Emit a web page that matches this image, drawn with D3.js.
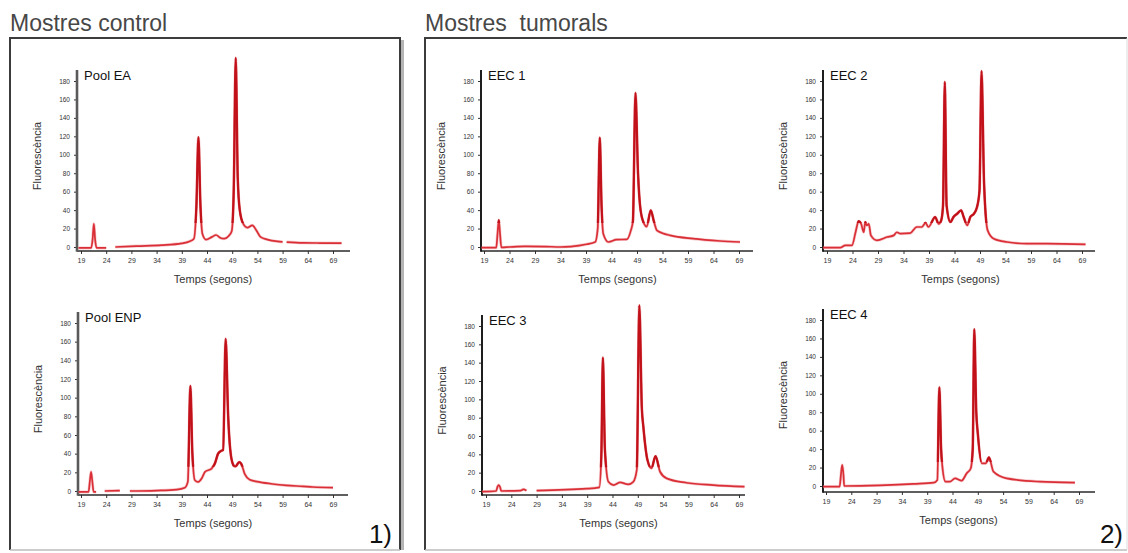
<!DOCTYPE html>
<html>
<head>
<meta charset="utf-8">
<script src="https://cdn.jsdelivr.net/npm/d3@7/dist/d3.min.js"></script>
<style>
  html, body { margin: 0; padding: 0; background: #fff; }
  svg { display: block; font-family: "Liberation Sans", Arial, sans-serif; }
</style>
</head>
<body>
<svg id="chart" width="1128" height="553"></svg>
<script>
// Axis ticks shared by all electropherograms
const ticksX = [19, 24, 29, 34, 39, 44, 49, 54, 59, 64, 69];
const ticksY = [0, 20, 40, 60, 80, 100, 120, 140, 160, 180];

const groupTitles = ["Mostres control", "Mostres  tumorals"];
const groupMarks = ["1)", "2)"];
const sampleNames = ["Pool EA", "Pool ENP", "EEC 1", "EEC 2", "EEC 3", "EEC 4"];
const xLabel = "Temps (segons)";
const yLabel = "Fluorescència";

// Traces: time (s) and fluorescence; null marks a break in the trace
const poolEA_t = [18.5, 21.0, 21.3, 21.55, 21.8, 22.1, 24.0, 24.8, 25.8, 30, 35, 39, 40.5, 41.4, 41.9, 42.3, 42.7, 43.1, 43.8, 45.0, 45.8, 46.6, 47.4, 48.3, 48.9, 49.3, 49.7, 50.1, 50.5, 51.2, 52.0, 53.0, 53.8, 54.6, 56.0, 58.0, 59.0, 59.4, 59.8, 63, 66.5, 70.7];
const poolEA_f = [-1, -1, 8, 25, 8, -1, -1, null, 0, 1, 2, 4, 6, 9, 45, 119, 45, 14, 8, 11, 13, 10, 9, 12, 17, 60, 205, 75, 40, 25, 21, 23.5, 18, 11, 8, 6, 5.5, null, 5.3, 4.5, 4.3, 4.2];

const poolENP_t = [18.5, 20.5, 20.75, 21.0, 21.25, 21.5, 22.0, 22.8, 23.7, 26.7, 27.7, 28.7, 34, 38, 39.6, 40.2, 40.7, 41.1, 41.6, 42.2, 43.0, 43.6, 44.9, 45.6, 46.2, 46.8, 47.2, 47.7, 48.2, 48.6, 49.2, 49.6, 50.4, 50.8, 51.5, 52.5, 54.5, 57, 59.8, 63, 65, 69];
const poolENP_f = [-1, -1, 10, 20.5, 10, -1, -1, null, 0, 0.5, null, 0, 0.5, 1.5, 3.5, 10, 112.5, 40, 11.5, 9.7, 14, 20.4, 24, 30, 40, 43, 44, 163, 80, 45, 28, 26, 31, 29, 18, 12, 9.5, 7.5, 6, 5, 4.3, 3.6];

const eec1_t = [18.5, 21.4, 21.65, 21.9, 22.15, 22.4, 24, 27, 31, 34, 36, 39.1, 40.8, 41.3, 41.7, 42.05, 42.4, 43.4, 45, 47, 47.8, 48.2, 48.7, 49.2, 49.7, 50.4, 50.9, 51.7, 52.3, 52.9, 54, 55.5, 60, 65.3, 69.2];
const eec1_f = [-0.7, -0.7, 14, 29, 14, -0.5, 0, 0.7, 0.5, 0, 0.5, 3, 5.4, 20, 118.5, 45, 14, 5.4, 8, 8.3, 18, 28, 167, 80, 40, 25, 22, 39.8, 28, 18, 15, 12.6, 9, 6.5, 5.4];

const eec2_t = [18.2, 21.6, 22.6, 23.9, 24.6, 25.2, 25.7, 26.2, 26.5, 26.8, 27.2, 27.6, 28.8, 30.8, 32.1, 32.7, 33.4, 35.3, 36.6, 37.6, 38.3, 38.9, 40.2, 40.9, 41.4, 41.75, 42.1, 42.45, 43.2, 43.8, 44.5, 45.3, 45.8, 46.5, 47.1, 47.8, 48.4, 48.9, 49.3, 49.8, 50.5, 51.7, 54.3, 58.2, 62.1, 69.7];
const eec2_f = [-0.7, -0.7, 1.8, 1.8, 16, 28, 25, 16, 27, 23.5, 25, 12.6, 7.2, 10.8, 12.6, 16, 14.5, 15, 21.7, 21.7, 26, 21.7, 32.5, 25, 29, 45, 179, 45, 27, 32.5, 36, 39.8, 32.5, 23.5, 32.5, 36, 43, 61, 190.8, 68.7, 18, 9, 5.4, 3.6, 3.6, 2.9];

const eec3_t = [18.2, 21.0, 21.3, 21.5, 21.8, 22.0, 25.8, 26.4, 27.0, 28.0, 29.0, 38.9, 41.4, 41.8, 42.1, 42.5, 43.2, 44.2, 45.5, 47.1, 48.1, 48.8, 49.3, 49.8, 50.1, 50.9, 51.7, 52.5, 53.4, 54.7, 58.6, 63.9, 70.1];
const eec3_f = [-0.7, 0, 5, 6.5, 4, 0, 0.4, 1.8, 0.4, null, 0.5, 2.5, 4, 40, 145.5, 45, 10, 6.5, 9.4, 7.3, 10, 23, 202.5, 90, 70, 34, 24.7, 38, 21, 13.8, 9, 6.5, 4.7];

const eec4_t = [18.4, 21.7, 21.95, 22.2, 22.45, 22.6, 29.7, 36.3, 40.3, 41.0, 41.4, 41.75, 42.0, 42.6, 43.5, 44.5, 45.8, 46.8, 47.6, 48.0, 48.3, 48.7, 49.0, 49.8, 50.6, 51.2, 52.1, 54.7, 61.3, 68.2];
const eec4_f = [-0.7, -0.7, 12, 22.8, 12, 0, 0.7, 2.2, 3.6, 6.5, 107, 40, 21, 4.7, 4.7, 8.3, 5.8, 13.7, 19, 40, 170, 80, 57, 24.6, 24.6, 31, 15.5, 8.3, 4.7, 3.6];

const traces = [
  [poolEA_t, poolEA_f], [poolENP_t, poolENP_f],
  [eec1_t, eec1_f], [eec2_t, eec2_f],
  [eec3_t, eec3_f], [eec4_t, eec4_f]
];

// Plot placement for each panel (pixels)
const layout = [
  { ax: 77,  x0: 81,  x1: 333,  y0: 247, y1: 81,  xa: 251, right: 350 },
  { ax: 78,  x0: 81,  x1: 333,  y0: 491, y1: 323, xa: 495, right: 348 },
  { ax: 481, x0: 484, x1: 739,  y0: 247, y1: 81,  xa: 251, right: 753 },
  { ax: 823, x0: 827, x1: 1082, y0: 247, y1: 81,  xa: 251, right: 1095 },
  { ax: 482, x0: 486, x1: 739,  y0: 491, y1: 326, xa: 495, right: 745 },
  { ax: 823, x0: 826, x1: 1079, y0: 486, y1: 320, xa: 492, right: 1095 }
];

const svg = d3.select("#chart");
const defs = svg.append("defs");

// Group frames with a soft shadow on the right
const frames = [
  { x: 10, y: 38, w: 390, h: 512 },
  { x: 425, y: 38, w: 702, h: 512 }
];
frames.forEach((f, i) => {
  svg.append("line").attr("x1", f.x + f.w + 2.5).attr("x2", f.x + f.w + 2.5)
    .attr("y1", f.y + 2).attr("y2", f.y + f.h)
    .attr("stroke", "#b5b5b5").attr("stroke-width", 3);
  svg.append("path")
    .attr("d", `M${f.x},${f.y + f.h} V${f.y} H${f.x + f.w}` + (i === 0 ? ` V${f.y + f.h}` : ""))
    .attr("fill", "none").attr("stroke", "#3c3c3c").attr("stroke-width", 2);
  svg.append("line").attr("x1", f.x).attr("x2", f.x + f.w)
    .attr("y1", f.y + f.h).attr("y2", f.y + f.h)
    .attr("stroke", "#bdbdbd").attr("stroke-width", 1.5);
  if (i === 1) {
    svg.append("line").attr("x1", f.x + f.w).attr("x2", f.x + f.w)
      .attr("y1", f.y).attr("y2", f.y + f.h)
      .attr("stroke", "#dcdcdc").attr("stroke-width", 1);
  }
});

// Group headings and panel numbers
svg.selectAll("text.group").data(groupTitles).join("text")
  .attr("class", "group")
  .attr("x", (d, i) => i === 0 ? 10 : 425).attr("y", 31)
  .attr("font-size", 23).attr("fill", "#474747")
  .style("white-space", "pre").attr("xml:space", "preserve")
  .text(d => d);

svg.selectAll("text.mark").data(groupMarks).join("text")
  .attr("class", "mark")
  .attr("x", (d, i) => i === 0 ? 392 : 1123).attr("y", 543)
  .attr("text-anchor", "end")
  .attr("font-size", 26).attr("fill", "#111")
  .text(d => d);

// One electropherogram per sample
layout.forEach((p, i) => {
  const g = svg.append("g");
  const x = d3.scaleLinear().domain([19, 69]).range([p.x0, p.x1]);
  const y = d3.scaleLinear().domain([0, 180]).range([p.y0, p.y1]);

  // x axis
  const xa = g.append("g").attr("transform", `translate(0,${p.xa})`)
    .call(d3.axisBottom(x).tickValues(ticksX).tickSize(3).tickPadding(4));
  xa.select(".domain").remove();
  xa.selectAll(".tick line").attr("stroke", "#333").attr("stroke-width", 1);
  xa.selectAll(".tick text").attr("font-size", 7).attr("fill", "#333")
    .attr("font-family", "Liberation Sans, Arial, sans-serif");
  g.append("line").attr("x1", p.ax).attr("x2", p.right)
    .attr("y1", p.xa).attr("y2", p.xa)
    .attr("stroke", "#2a2a2a").attr("stroke-width", 1.5);

  // y axis
  const ya = g.append("g").attr("transform", `translate(${p.ax},0)`)
    .call(d3.axisLeft(y).tickValues(ticksY).tickSize(3).tickPadding(4));
  ya.select(".domain").remove();
  ya.selectAll(".tick line").attr("stroke", "#333").attr("stroke-width", 1);
  ya.selectAll(".tick text").attr("font-size", 6.5).attr("fill", "#333")
    .attr("font-family", "Liberation Sans, Arial, sans-serif");
  g.append("line").attr("x1", p.ax).attr("x2", p.ax)
    .attr("y1", p.y1 - 11).attr("y2", p.xa + 0.75)
    .attr("stroke", i < 2 ? "#5a5a5a" : "#1e1e1e").attr("stroke-width", i < 2 ? 2.6 : 2);

  // axis titles
  g.append("text")
    .attr("transform", `translate(${p.ax - 36},${(p.y0 + p.y1) / 2 - 8}) rotate(-90)`)
    .attr("text-anchor", "middle").attr("font-size", 11).attr("fill", "#333")
    .text(yLabel);
  g.append("text")
    .attr("x", (p.x0 + p.x1) / 2 + 6).attr("y", p.xa + 32)
    .attr("text-anchor", "middle").attr("font-size", 11).attr("fill", "#333")
    .text(xLabel);

  // sample name
  g.append("text")
    .attr("x", p.ax + 7).attr("y", p.y1 - 1)
    .attr("font-size", 13).attr("fill", "#111")
    .text(sampleNames[i]);

  // fluorescence trace: soft halo, main line, and a darker stroke over the peak tops
  const [ts, fs] = traces[i];
  const pts = ts.map((t, k) => ({ t, f: fs[k] }));
  const line = d3.line()
    .defined(d => d.f !== null)
    .x(d => x(d.t)).y(d => y(d.f))
    .curve(d3.curveMonotoneX);
  const d = line(pts);

  const clipId = `peaks-${i}`;
  defs.append("clipPath").attr("id", clipId)
    .append("rect")
    .attr("x", p.ax).attr("width", p.right - p.ax)
    .attr("y", y(215)).attr("height", y(26) - y(215));

  g.append("path").attr("d", d)
    .attr("fill", "none").attr("stroke", "#f0949a").attr("stroke-width", 3)
    .attr("stroke-opacity", 0.5).attr("stroke-linejoin", "round");
  g.append("path").attr("d", d)
    .attr("fill", "none").attr("stroke", "#d61e26").attr("stroke-width", 1.7)
    .attr("stroke-opacity", 0.9).attr("stroke-linejoin", "round");
  g.append("path").attr("d", d)
    .attr("clip-path", `url(#${clipId})`)
    .attr("fill", "none").attr("stroke", "#bf0d16").attr("stroke-width", 2.3)
    .attr("stroke-opacity", 0.9).attr("stroke-linejoin", "round");
});
</script>
</body>
</html>
